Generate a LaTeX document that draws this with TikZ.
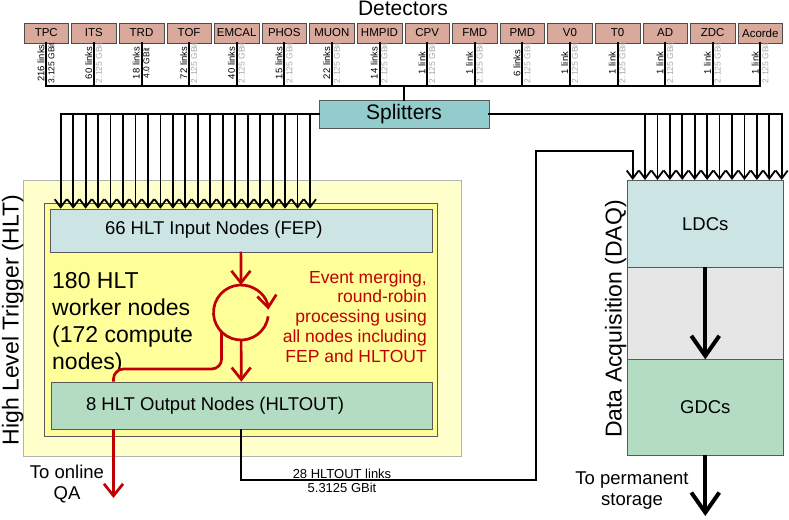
\documentclass[tikz,border=0pt]{standalone}
\usepackage{fontspec}
\setmainfont{Liberation Sans}
\usepackage{xcolor}
\usepackage{tikz}
\usetikzlibrary{arrows.meta,positioning}
\definecolor{detFill}{RGB}{217,169,156}
\definecolor{splitFill}{RGB}{147,204,204}
\definecolor{inFill}{RGB}{205,228,229}
\definecolor{outFill}{RGB}{179,220,195}
\definecolor{hltOuter}{RGB}{255,255,204}
\definecolor{hltInner}{RGB}{255,255,153}
\definecolor{midFill}{RGB}{230,230,230}
\definecolor{flowRed}{RGB}{192,0,0}
\definecolor{rateGray}{RGB}{168,168,168}
\newcommand{\fs}[2]{\fontsize{#1}{#2}\selectfont}
\tikzset{
    detBox/.style={
        draw=gray!60!black,
        fill=detFill,
        minimum width=44.5pt,
        minimum height=20pt,
        inner sep=0pt,
        outer sep=0pt,
        font=\fs{11.5}{13}
    },
    plainBox/.style={
        draw=gray!70!black,
        inner sep=0pt,
        outer sep=0pt
    },
    linkLabel/.style={
        rotate=90,
        inner sep=0.6pt,
        font=\fs{9.5}{10}
    },
    rateLabel/.style={
        rotate=90,
        inner sep=0.6pt,
        font=\fs{8.5}{10}
    },
    busLine/.style={
        line width=2pt,
        line cap=rect
    },
    linkArrow/.style={
        -{Straight Barb[length=8pt,width=12pt]},
        line width=1.8pt
    },
    redLine/.style={
        draw=flowRed,
        line width=2.7pt
    },
    redArrow/.style={
        redLine,
        -{Straight Barb[length=12pt,width=19pt]}
    },
    bigArrow/.style={
        -{Straight Barb[length=20pt,width=28pt]},
        line width=4pt
    }
}

\begin{document}
\begin{tikzpicture}[x=1pt,y=-1pt]
        \useasboundingbox (0,0) rectangle (789,519);

        % detectors and their links
        \node[font=\fs{21}{24},anchor=base] (title) at (403,15.5) {Detectors};
        \foreach \dname/\links/\rate/\rcol [count=\i from 0] in {
            TPC/216 links/3.125 GBit/black, ITS/60 links/2.125 GBit/rateGray,
            TRD/18 links/4.0 GBit/black, TOF/72 links/2.125 GBit/rateGray,
            EMCAL/40 links/2.125 GBit/rateGray, PHOS/15 links/2.125 GBit/rateGray,
            MUON/22 links/2.125 GBit/rateGray, HMPID/14 links/2.125 GBit/rateGray,
            CPV/1 link/2.125 GBit/rateGray, FMD/1 link/2.125 GBit/rateGray,
            PMD/6 links/2.125 GBit/rateGray, V0/1 link/2.125 GBit/rateGray,
            T0/1 link/2.125 GBit/rateGray, AD/1 link/2.125 GBit/rateGray,
            ZDC/1 link/2.125 GBit/rateGray, Acorde/1 link/2.125 GBit/rateGray}{
            \node[detBox] (det\i) at ({46.3+47.6*\i},33) {\dname};
            \draw[busLine] (det\i.south) -- ({46.3+47.6*\i},86);
            \node[linkLabel,anchor=south] at ([shift={(-1,20)}]det\i.south) {\links};
            \node[rateLabel,anchor=north,text=\rcol] at ([shift={(1,20)}]det\i.south) {\rate};
        }
        \coordinate (busL) at (46.3,86);
        \coordinate (busR) at (760.3,86);
        \draw[busLine] (busL) -- (busR);

        \node[plainBox,fill=splitFill,minimum width=170pt,minimum height=28pt,font=\fs{21}{24}] (split) at (404,114) {Splitters};
        \draw[busLine] (split.north |- busL) -- (split.north);

        % HLT
        \node[draw=gray!60,fill=hltOuter,minimum width=438pt,minimum height=276pt,inner sep=0pt,outer sep=0pt] (hlt) at (242,318) {};
        \node[plainBox,fill=hltInner,minimum width=393.5pt,minimum height=233pt] (worker) at (240.75,319.5) {};
        \node[plainBox,fill=inFill,minimum width=381.7pt,minimum height=43pt,
            label={[font=\fs{18.5}{21},xshift=-27pt]center:66 HLT Input Nodes (FEP)}] (fep) at (240.85,230.2) {};
        \node[plainBox,fill=outFill,minimum width=380.7pt,minimum height=47.3pt,
            label={[font=\fs{18.5}{21},xshift=-26.3pt]center:8 HLT Output Nodes (HLTOUT)}] (hltout) at (241.35,405.35) {};
        \node[anchor=base west,align=left,inner sep=0pt,font=\fs{23}{27}] (wtext) at (52,369) {180 HLT\\worker nodes\\(172 compute\\nodes)};
        \node[anchor=base east,align=right,inner sep=0pt,text=flowRed,font=\fs{17.5}{19.8}] (rtext) at (427,362.2) {Event merging,\\round-robin\\processing using\\all nodes including\\FEP and HLTOUT};
        \node[rotate=90,anchor=base,font=\fs{23}{27}] (hltLabel) at (18.5,320) {High Level Trigger (HLT)};

        \node[circle,minimum size=55pt,inner sep=0pt,outer sep=0pt] (merge) at (241,312.5) {};
        \draw[redArrow] ([shift={(8:27.5)}]merge.center) arc[start angle=8,end angle=354,radius=27.5];
        \draw[redArrow] (fep) -- (merge);
        \draw[redArrow] (merge) -- (hltout);
        \coordinate (qa) at (113.5,498);
        \draw[redLine,rounded corners=10pt] (merge.south west) -- (221.6,369) -- (113.5,369) -- (qa |- hltout.north);
        \draw[redArrow] (qa |- hltout.south) -- (qa);
        \node[font=\fs{18.5}{21},align=center,anchor=base] (qaText) at (67,499) {To online\\QA};

        % DAQ
        \node[plainBox,fill=inFill,minimum width=156pt,minimum height=87.3pt,font=\fs{18.5}{21}] (ldc) at (705.3,223.65) {LDCs};
        \node[plainBox,fill=midFill,minimum width=156pt,minimum height=92pt,below=0pt of ldc] (mid) {};
        \node[plainBox,fill=outFill,minimum width=156pt,minimum height=95.7pt,below=0pt of mid,font=\fs{18.5}{21}] (gdc) {GDCs};
        \node[rotate=90,anchor=base,font=\fs{23}{27}] (daqLabel) at (621.5,319) {Data Acquisition (DAQ)};
        \draw[bigArrow] (ldc) -- (gdc);
        \coordinate (store) at (705.3,516);
        \draw[bigArrow] (gdc) -- (store);
        \node[font=\fs{18.5}{21},align=center,anchor=base] (storeText) at (632,505) {To permanent\\storage};

        % splitter fan-out
        \coordinate (fanL) at (60.7,114);
        \coordinate (fanR) at (782,114);
        \draw[busLine] (fanL) -- (split.west);
        \draw[busLine] (split.east) -- (fanR);
        \foreach \k in {0,...,20}
            \draw[linkArrow] ({60.7+12.465*\k},114) -- ({60.7+12.465*\k},114 |- fep.north);
        \foreach \k in {0,...,11}
            \draw[linkArrow] ({645+12.43*\k},114) -- ({645+12.43*\k},114 |- ldc.north);

        % HLTOUT back to DAQ
        \coordinate (retA) at (536,480);
        \coordinate (retB) at (632.7,150.7);
        \draw[linkArrow] (hltout) |- (retA) |- (retB) -- (retB |- ldc.north);
        \node[font=\fs{13}{14},align=center] (linkText) at (342,481) {28 HLTOUT links\\5.3125 GBit};
    \end{tikzpicture}
\end{document}
